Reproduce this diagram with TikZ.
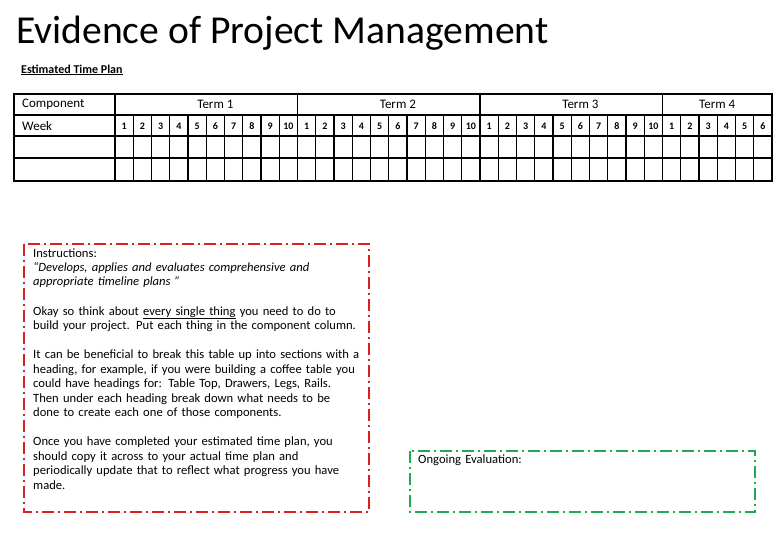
\documentclass[tikz,border=0pt]{standalone}
\usepackage{fontspec}
\setmainfont{Carlito}
\begin{document}
\begin{tikzpicture}[x=1pt,y=-1pt,
  gridline/.style={line width=1.3pt},
  hdr/.style={font=\fontsize{13}{15}\selectfont, inner sep=0pt},
  wk/.style={font=\bfseries\fontsize{10}{11}\selectfont, inner sep=0pt},
  txt/.style={font=\fontsize{12.6}{14.4}\selectfont, align=left, anchor=north west, inner sep=0pt, text width=340pt},
  redbox/.style={draw={rgb,255:red,220;green,30;blue,30}, line width=2.5pt, dash pattern=on 12pt off 4pt on 2pt off 4pt},
  greenbox/.style={draw={rgb,255:red,30;green,170;blue,80}, line width=2.5pt, dash pattern=on 12pt off 4pt on 2pt off 4pt}]
\useasboundingbox (0,0) rectangle (780,540);
\node[anchor=west, inner sep=0pt, font=\fontsize{39.6}{42}\selectfont] (title) at (16,33) {Evidence of Project Management};
\node[anchor=west, inner sep=0pt, font=\bfseries\fontsize{12}{13}\selectfont] (sub) at (21,70) {\underline{Estimated Time Plan}};
% table
\draw[gridline] (14,94) rectangle (772,181);
\foreach \y in {115,136,158} \draw[gridline] (14,\y) -- (772,\y);
\draw[gridline] (115,94) -- (115,181);
\foreach \t in {10,20,30} \draw[gridline] ({115+\t*18.25},94) -- ({115+\t*18.25},181);
\foreach \i in {1,...,35} \draw[gridline] ({115+\i*18.25},115) -- ({115+\i*18.25},181);
\node[hdr,anchor=west] (comp) at (22,104.5) {Component};
\node[hdr,anchor=west] (week) at (22,126) {Week};
\node[hdr] (t1) at ({115+5.5*18.25},104.5) {Term 1};
\node[hdr] (t2) at ({115+15.5*18.25},104.5) {Term 2};
\node[hdr] (t3) at ({115+25.5*18.25},104.5) {Term 3};
\node[hdr] (t4) at ({115+33*18.25},104.5) {Term 4};
\foreach \i in {0,...,35}{
  \pgfmathtruncatemacro{\n}{mod(\i,10)+1}
  \node[wk] (w\i) at ({115+(\i+0.5)*18.25},126) {\n};
}
% boxes
\draw[redbox] (24,244) rectangle (369,512);
\draw[greenbox] (410,451) rectangle (755,512);
\node[txt] (instr) at (33,249) {Instructions:\\[-1pt]
\textit{“Develops, applies and evaluates comprehensive and\\ appropriate timeline plans ”}\\[15pt]
Okay so think about \underline{every single thing} you need to do to\\ build your project. Put each thing in the component column.\\[15pt]
It can be beneficial to break this table up into sections with a\\ heading, for example, if you were building a coffee table you\\ could have headings for: Table Top, Drawers, Legs, Rails.\\ Then under each heading break down what needs to be\\ done to create each one of those components.\\[15pt]
Once you have completed your estimated time plan, you\\ should copy it across to your actual time plan and\\ periodically update that to reflect what progress you have\\ made.};
\node[txt, text width=200pt] (eval) at (418,455) {Ongoing Evaluation:};
\end{tikzpicture}
\end{document}
